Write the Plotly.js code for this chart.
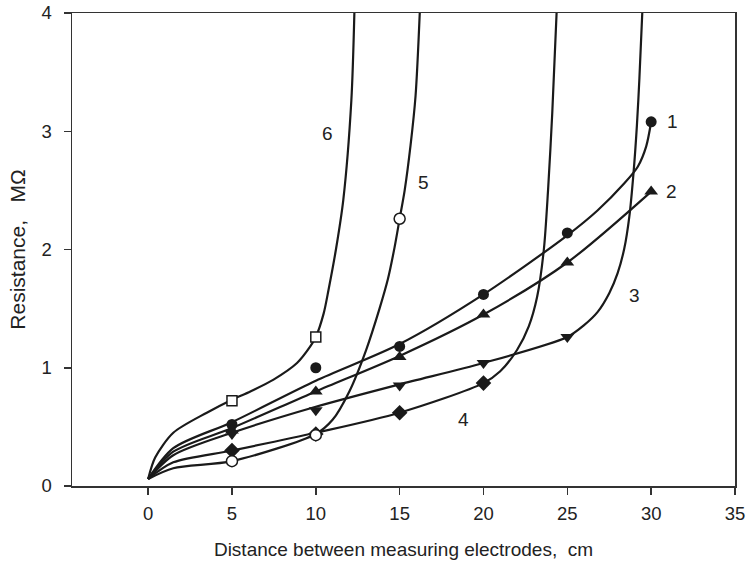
<!DOCTYPE html>
<html>
<head>
<meta charset="utf-8">
<script src="https://cdn.plot.ly/plotly-3.0.1.min.js"></script>
<style>html,body{margin:0;padding:0;background:#fff;}#chart{width:748px;height:565px;}</style>
</head>
<body>
<div id="chart"></div>
<script>
// Measured points (markers)
var m1x = [5, 10, 15, 20, 25, 30];
var m1y = [0.52, 1.00, 1.18, 1.62, 2.14, 3.08];
var m2x = [5, 10, 15, 20, 25, 30];
var m2y = [0.47, 0.80, 1.09, 1.45, 1.89, 2.49];
var m3x = [5, 10, 15, 20, 25];
var m3y = [0.44, 0.64, 0.85, 1.04, 1.26];
var m4x = [5, 10, 15, 20];
var m4y = [0.30, 0.44, 0.62, 0.87];
var m5x = [5, 10, 15];
var m5y = [0.21, 0.43, 2.26];
var m6x = [5, 10];
var m6y = [0.72, 1.26];

// Fitted curves
var c1x = [0, 1.5, 5, 10, 15, 20, 25, 26.8, 28.4, 29.2, 29.7, 30];
var c1y = [0.06, 0.32, 0.54, 0.89, 1.20, 1.62, 2.12, 2.33, 2.56, 2.70, 2.87, 3.08];
var c2x = [0, 1.5, 5, 10, 15, 20, 25, 30];
var c2y = [0.06, 0.29, 0.49, 0.80, 1.10, 1.45, 1.89, 2.49];
var c3x = [0, 1.5, 5, 10, 15, 20, 25, 26, 26.8, 27.5, 28, 28.4, 28.7, 28.95, 29.15, 29.3, 29.47];
var c3y = [0.06, 0.26, 0.45, 0.67, 0.86, 1.04, 1.26, 1.36, 1.47, 1.63, 1.80, 2.01, 2.28, 2.65, 3.05, 3.45, 4.0];
var c4x = [0, 1.5, 5, 10, 15, 20, 21, 22, 22.7, 23.2, 23.6, 23.85, 24.1, 24.36];
var c4y = [0.06, 0.20, 0.30, 0.45, 0.62, 0.87, 0.97, 1.15, 1.35, 1.6, 2.0, 2.5, 3.15, 4.0];
var c5x = [0, 1.5, 5, 10, 11, 12, 13, 13.8, 14.3, 14.7, 15, 15.3, 15.65, 15.95, 16.2];
var c5y = [0.06, 0.15, 0.21, 0.44, 0.56, 0.80, 1.15, 1.5, 1.75, 2.02, 2.26, 2.5, 2.88, 3.3, 4.0];
var c6x = [0, 0.42, 1.5, 3.5, 5, 6.1, 7.48, 8.88, 9.67, 10, 10.47, 10.76, 11.2, 11.64, 12.12, 12.3];
var c6y = [0.06, 0.24, 0.45, 0.62, 0.73, 0.80, 0.90, 1.04, 1.18, 1.26, 1.46, 1.66, 2.0, 2.42, 3.26, 4.0];

var labels = ['1', '2', '3', '4', '5', '6'];
var labelX = [31.3, 31.2, 29.0, 18.8, 16.4, 10.7];
var labelY = [3.08, 2.49, 1.61, 0.56, 2.57, 2.98];

var xTicks = [0, 5, 10, 15, 20, 25, 30, 35];
var yTicks = [0, 1, 2, 3, 4];

var ink = '#1a1a1a';
var fam = 'Liberation Sans, Arial, sans-serif';
function curve(x, y) {
  return {x: x, y: y, mode: 'lines', line: {color: ink, width: 2.2, shape: 'spline', smoothing: 0.8}, hoverinfo: 'skip', showlegend: false};
}
function marks(x, y, sym, size, open) {
  return {x: x, y: y, mode: 'markers', showlegend: false, cliponaxis: false,
    marker: {symbol: sym, size: size, color: open ? '#ffffff' : ink, line: {color: ink, width: open ? 1.5 : 0}}};
}

var data = [
  curve(c1x, c1y), curve(c2x, c2y), curve(c3x, c3y),
  curve(c4x, c4y), curve(c5x, c5y), curve(c6x, c6y),
  marks(m1x, m1y, 'circle', 11, false),
  marks(m2x, m2y, 'triangle-up', 12, false),
  marks(m3x, m3y, 'triangle-down', 12, false),
  marks(m4x, m4y, 'diamond', 12, false),
  marks(m5x, m5y, 'circle', 11, true),
  marks(m6x, m6y, 'square', 10, true)
];

var annotations = labels.map(function (t, i) {
  return {x: labelX[i], y: labelY[i], text: t, showarrow: false, xanchor: 'center', yanchor: 'middle',
    font: {family: fam, size: 19, color: '#222'}};
});

var axisFont = {family: fam, size: 18.5, color: '#222'};
var layout = {
  width: 748, height: 565,
  margin: {l: 72, r: 13, t: 13, b: 79},
  paper_bgcolor: '#fff', plot_bgcolor: '#fff',
  font: axisFont,
  xaxis: {
    range: [-4.54, 35], tickvals: xTicks, ticks: 'outside', ticklen: 7, tickwidth: 1.5, tickcolor: '#333',
    showline: true, linecolor: '#333', linewidth: 1.5, mirror: true, showgrid: false, zeroline: false,
    tickfont: axisFont, ticklabelstandoff: 3,
    title: {text: 'Distance between measuring electrodes,  cm', font: {family: fam, size: 19, color: '#222'}, standoff: 20}
  },
  yaxis: {
    range: [0, 4], tickvals: yTicks, ticks: 'outside', ticklen: 7, tickwidth: 1.5, tickcolor: '#333',
    showline: true, linecolor: '#333', linewidth: 1.5, mirror: true, showgrid: false, zeroline: false,
    tickfont: axisFont, ticklabelstandoff: 8,
    title: {text: 'Resistance,   MΩ', font: {family: fam, size: 21, color: '#222'}, standoff: 10}
  },
  annotations: annotations
};

Plotly.newPlot('chart', data, layout, {staticPlot: true, displayModeBar: false});
</script>
</body>
</html>
